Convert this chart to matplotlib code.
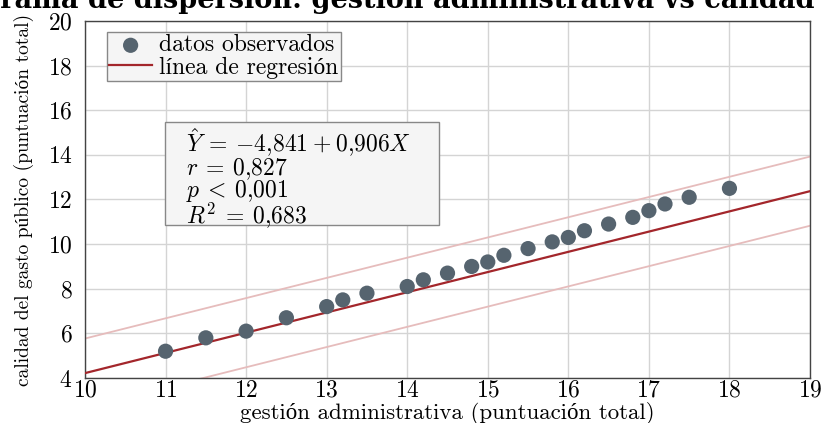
import matplotlib
matplotlib.use("Agg")
import matplotlib.pyplot as plt
from matplotlib.patches import Rectangle
import numpy as np

plt.rcParams['font.family'] = ['cmr10', 'Liberation Serif']
plt.rcParams['mathtext.fontset'] = 'cm'
plt.rcParams['axes.formatter.use_mathtext'] = True

# datos observados
gestion = [11, 11.5, 12, 12.5, 13, 13.2, 13.5, 14, 14.2, 14.5, 14.8, 15,
           15.2, 15.5, 15.8, 16, 16.2, 16.5, 16.8, 17, 17.2, 17.5, 18]
calidad = [5.2, 5.8, 6.1, 6.7, 7.2, 7.5, 7.8, 8.1, 8.4, 8.7, 9.0, 9.2,
           9.5, 9.8, 10.1, 10.3, 10.6, 10.9, 11.2, 11.5, 11.8, 12.1, 12.5]

intercepto = -4.841
pendiente = 0.906
banda = 1.55

W, H = 823, 423
fig = plt.figure(figsize=(W / 100, H / 100), dpi=100)
ax = fig.add_axes([85 / W, 1 - 378 / H, 725 / W, 357 / H])

xs = np.array([10, 19])
ys = intercepto + pendiente * xs
pts = ax.scatter(gestion, calidad, s=120, color='#56646f', zorder=4,
                 label='datos observados', edgecolors='none')
ax.plot(xs, ys + banda, color='#e6bcbc', lw=1.3, zorder=2)
ax.plot(xs, ys - banda, color='#e6bcbc', lw=1.3, zorder=2)
reg, = ax.plot(xs, ys, color='#a3262b', lw=1.6, zorder=3, label='línea de regresión')

ax.set_xlim(10, 19)
ax.set_ylim(4, 20)
ax.set_xticks(range(10, 20))
ax.set_yticks(range(4, 21, 2))
ax.grid(True, color='#d4d4d4', lw=1.0)
ax.set_axisbelow(True)
ax.tick_params(labelsize=17, length=0)
ax.tick_params(axis='y', pad=9)
ax.tick_params(axis='x', pad=1)
for s in ax.spines.values():
    s.set_color('#444444')
    s.set_linewidth(1.0)

ax.set_xlabel('gestión administrativa (puntuación total)', fontsize=16.5, labelpad=0.5)
ax.set_ylabel('calidad del gasto público (puntuación total)', fontsize=14, labelpad=10)

leg = ax.legend(handles=[pts, reg], loc='upper left', bbox_to_anchor=(22 / 725, 1 - 11 / 357),
                fontsize=17, frameon=True, fancybox=False, handlelength=1.8,
                handletextpad=0.3, borderpad=0.1, labelspacing=0.0, borderaxespad=0)
leg.get_frame().set_facecolor('#f5f5f5')
leg.get_frame().set_edgecolor('#888888')
leg.get_frame().set_alpha(1)

# recuadro de estadísticos
fig.patches.append(Rectangle((165 / W, 1 - 225 / H), 274 / W, 103 / H,
                             transform=fig.transFigure, facecolor='#f5f5f5',
                             edgecolor='#888888', lw=1.0, zorder=5))
txt = ('$\\hat{Y}\\:=\\:-4{,}841\\:+\\:0{,}906X$\n$r\\:=\\:0{,}827$\n'
       '$p\\:<\\:0{,}001$\n$R^2\\:=\\:0{,}683$')
fig.text(186 / W, 1 - 127 / H, txt, fontsize=17, va='top', ha='left',
         linespacing=0.82, zorder=6)

fig.text(815 / W, 1 - 8 / H, 'Diagrama de dispersión: gestión administrativa vs calidad',
         ha='right', va='baseline', fontsize=19.5, fontweight='bold', family='DejaVu Serif')

fig.savefig('out.png', dpi=100)
